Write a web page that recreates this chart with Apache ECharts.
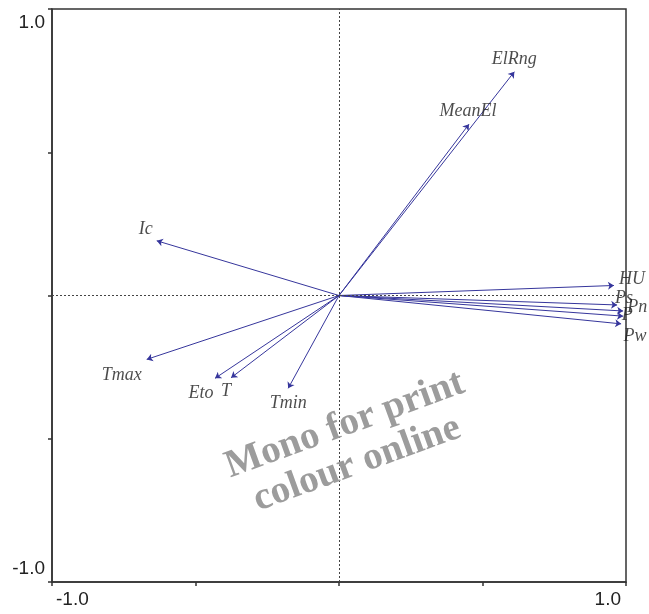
<!DOCTYPE html>
<html>
<head>
<meta charset="utf-8">
<script src="https://cdn.jsdelivr.net/npm/echarts@6/dist/echarts.min.js"></script>
<style>
html,body{margin:0;padding:0;background:#fff;}
#chart{width:649px;height:614px;}
</style>
</head>
<body>
<div id="chart"></div>
<script>
// Variable names and their loadings (arrow tips)
const variables = ['ElRng', 'MeanEl', 'Ic', 'Tmax', 'Eto', 'T', 'Tmin', 'HU', 'Ps', 'Pn', 'P', 'Pw'];
const xLoadings = [0.611, 0.453, -0.635, -0.670, -0.432, -0.376, -0.177, 0.958, 0.969, 0.990, 0.990, 0.983];
const yLoadings = [0.781, 0.598, 0.191, -0.223, -0.289, -0.287, -0.324, 0.035, -0.033, -0.054, -0.072, -0.099];
const tickLabels = ['-1.0', '1.0'];
const watermarkLines = ['Mono for print', 'colour online'];

// label placement (pixel offsets from arrow tip) – styling only
const labelOffsets = [[0,-12],[-1,-13],[-11,-12],[-25,16],[-14,15],[-5,14],[0,15],[18,-6],[7,-7],[14,-4],[4,-1],[14,12]];

const arrowColor = '#36369c';

const arrowData = variables.map((v, i) => ({
  name: v,
  coords: [[0, 0], [xLoadings[i], yLoadings[i]]]
}));
const labelData = variables.map((v, i) => ({
  name: v,
  value: [xLoadings[i], yLoadings[i]]
}));

const fmt = function (val) {
  if (Math.abs(val + 1) < 1e-9) return tickLabels[0];
  if (Math.abs(val - 1) < 1e-9) return tickLabels[1];
  return '';
};

const chart = echarts.init(document.getElementById('chart'));
chart.setOption({
  backgroundColor: '#ffffff',
  animation: false,
  grid: {
    left: 52, right: 23, top: 9, bottom: 32,
    show: true, borderColor: '#333', borderWidth: 1.5, backgroundColor: 'transparent'
  },
  xAxis: {
    type: 'value', min: -1, max: 1, interval: 0.5,
    axisLine: { show: true, onZero: false, lineStyle: { color: '#333', width: 1.5 } },
    axisTick: { show: true, length: 4, lineStyle: { color: '#333', width: 1.5 } },
    splitLine: { show: false },
    axisLabel: {
      formatter: fmt, fontSize: 19, color: '#222', fontFamily: 'Liberation Sans, Arial, sans-serif',
      margin: 8, padding: [0, 5, 0, 4], alignMinLabel: 'left', alignMaxLabel: 'right',
      showMinLabel: true, showMaxLabel: true
    }
  },
  yAxis: {
    type: 'value', min: -1, max: 1, interval: 0.5,
    axisLine: { show: true, onZero: false, lineStyle: { color: '#333', width: 1.5 } },
    axisTick: { show: true, length: 4, lineStyle: { color: '#333', width: 1.5 } },
    splitLine: { show: false },
    axisLabel: {
      formatter: fmt, fontSize: 19, color: '#222', fontFamily: 'Liberation Sans, Arial, sans-serif',
      margin: 7, padding: [4, 0, 4, 0],
      verticalAlignMinLabel: 'bottom', verticalAlignMaxLabel: 'top',
      showMinLabel: true, showMaxLabel: true
    }
  },
  series: [
    {
      type: 'line',
      data: [],
      silent: true,
      markLine: {
        silent: true,
        symbol: ['none', 'none'],
        label: { show: false },
        lineStyle: { color: '#444', type: [2, 2], width: 1 },
        data: [{ xAxis: 0 }, { yAxis: 0 }]
      }
    },
    {
      type: 'lines',
      coordinateSystem: 'cartesian2d',
      silent: true,
      symbol: ['none', 'arrow'],
      symbolSize: 6,
      lineStyle: { color: arrowColor, width: 1, opacity: 1, curveness: 0 },
      data: arrowData,
      z: 3
    },
    {
      type: 'scatter',
      silent: true,
      symbolSize: 1,
      itemStyle: { color: 'rgba(0,0,0,0)' },
      label: {
        show: true,
        position: 'inside',
        formatter: '{b}',
        fontFamily: 'Liberation Serif, Times New Roman, serif',
        fontStyle: 'italic',
        fontSize: 18,
        color: '#1e1e1e'
      },
      labelLayout: function (params) {
        const o = labelOffsets[params.dataIndex];
        return { dx: o[0], dy: o[1], hideOverlap: false };
      },
      data: labelData,
      z: 4
    }
  ],
  graphic: [
    {
      type: 'text', x: 345, y: 425, rotation: 20 * Math.PI / 180, z: 100, silent: true,
      style: {
        text: watermarkLines[0], fill: '#9c9c9c',
        font: 'bold 39px "Liberation Serif", "Times New Roman", serif',
        textAlign: 'center', textVerticalAlign: 'middle'
      }
    },
    {
      type: 'text', x: 357, y: 464, rotation: 20 * Math.PI / 180, z: 100, silent: true,
      style: {
        text: watermarkLines[1], fill: '#9c9c9c',
        font: 'bold 39px "Liberation Serif", "Times New Roman", serif',
        textAlign: 'center', textVerticalAlign: 'middle'
      }
    }
  ]
});
</script>
</body>
</html>
